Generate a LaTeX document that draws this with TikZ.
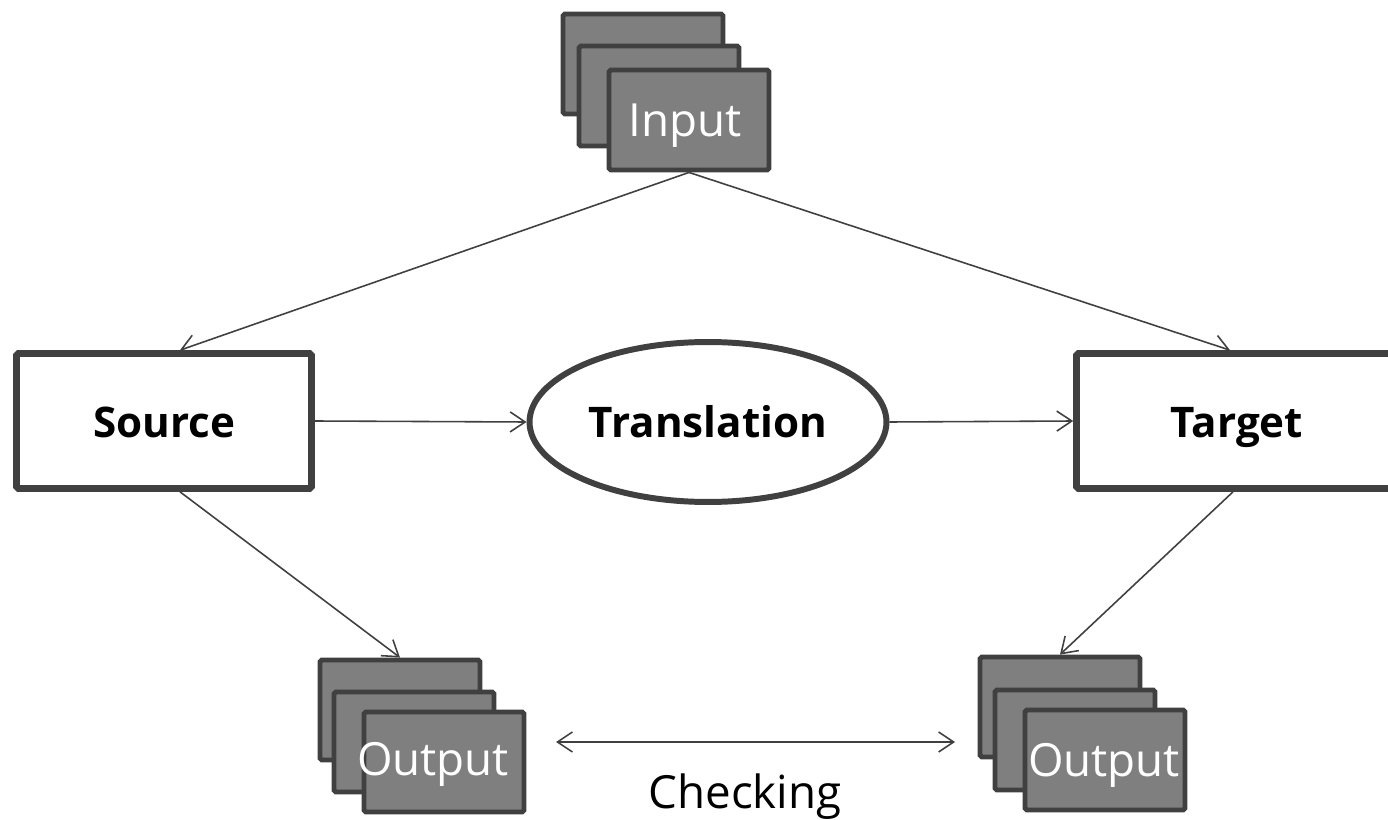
\documentclass[tikz,border=0pt]{standalone}
\usepackage{fontspec}
\setmainfont{Open Sans}
\usetikzlibrary{shapes.geometric, arrows.meta, positioning}
\definecolor{edgegray}{HTML}{404040}
\definecolor{sheetgray}{HTML}{7F7F7F}
\tikzset{
    x=0.02cm, y=-0.02cm, % one unit is one pixel of the layout
    sheet/.style={ % the stacked documents
        draw=edgegray, fill=sheetgray,
        line width=2.8pt, rounded corners=1pt,
        minimum width=3.2cm, minimum height=2cm, inner sep=0pt
    },
    stage/.style={ % Source and Target boxes
        draw=edgegray, fill=white,
        line width=3.8pt, rounded corners=1pt,
        minimum width=5.9cm, minimum height=2.7cm,
        text height=0.75cm, text depth=0.09cm,
        font=\fontsize{24}{28}\selectfont\bfseries
    },
    sheettext/.style={text=white, font=\fontsize{26}{30}\selectfont},
    flow/.style={
        draw=edgegray, line width=0.9pt,
        -{Straight Barb[length=3mm,width=4mm]}
    }
}
\begin{document}
\begin{tikzpicture}
    \useasboundingbox (0,0) rectangle (1388,820);
    % input stack
    \node[sheet] (inA) at (643,64) {};
    \node[sheet] (inB) at (659,96) {};
    \node[sheet] (inC) at (689,120) {};
    \node[sheettext] (inT) at (685,126) {Input};
    % stages
    \node[stage] (src) at (164,421) {Source};
    \node[stage, minimum width=6.42cm] (tgt) at (1237,421) {Target};
    \node[ellipse, draw=edgegray, fill=white, line width=3.4pt,
          minimum width=7.14cm, minimum height=3.2cm, inner sep=0pt,
          font=\fontsize{24}{28}\selectfont\bfseries] (trans) at (708,422) {Translation};
    % output stacks
    \node[sheet] (outLA) at (400,710) {};
    \node[sheet] (outLB) at (414,742) {};
    \node[sheet] (outLC) at (444,762) {};
    \node[sheettext] (outLT) at (433,764) {Output};
    \node[sheet] (outRA) at (1060,707) {};
    \node[sheet] (outRB) at (1075,740) {};
    \node[sheet] (outRC) at (1105,760) {};
    \node[sheettext] (outRT) at (1104,765) {Output};
    % connectors
    \draw[flow] (inC.south) -- ([xshift=0.32cm]src.north);
    \draw[flow] (inC.south) -- ([xshift=-0.14cm]tgt.north);
    \draw[flow] (src.east) -- (trans.west);
    \draw[flow] (trans.east) -- (tgt.west);
    \draw[flow] ([xshift=0.32cm]src.south) -- (outLA.north);
    \draw[flow] ([xshift=-0.08cm]tgt.south) -- (outRA.north);
    \coordinate (chkL) at (556,742);
    \coordinate (chkR) at (955,742);
    \draw[draw=edgegray, line width=0.9pt,
          {Straight Barb[length=3mm,width=4mm]}-{Straight Barb[length=3mm,width=4mm]}] (chkL) -- (chkR);
    \node[font=\fontsize{26}{30}\selectfont] (chk) at (745,797) {Checking};
\end{tikzpicture}
\end{document}
